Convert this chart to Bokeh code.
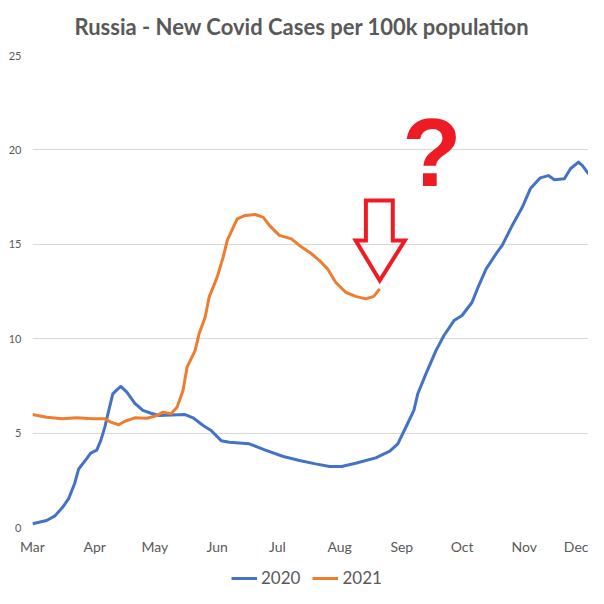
from bokeh.plotting import figure
from bokeh.models import Range1d, FixedTicker, Legend, LegendItem
from bokeh.layouts import column
from bokeh.embed import file_html
from bokeh.resources import INLINE
from bokeh.core.properties import value

title_text = "Russia - New Covid Cases per 100k population"
month_labels = ["Mar", "Apr", "May", "Jun", "Jul", "Aug", "Sep", "Oct", "Nov", "Dec"]
month_days = [0, 31, 61, 92, 122, 153, 184, 214, 245, 275]  # days since 1 March
y_ticks = [0, 5, 10, 15, 20, 25]
series_names = ["2020", "2021"]

# 2020 series (day since 1 March, new cases per 100k)
days_2020 = [0, 7, 11, 15, 18, 21, 23, 27, 29, 32, 34, 36, 38, 40, 42, 44, 47, 51, 55, 59,
             63, 76, 80, 85, 89, 94, 98, 108, 116, 125, 133, 141, 148, 154, 161, 171, 178,
             182, 186, 190, 192, 196, 201, 205, 210, 214, 219, 222, 226, 231, 234, 239, 244,
             248, 253, 257, 260, 265, 268, 272, 274, 277]
cases_2020 = [0.2, 0.37, 0.6, 1.07, 1.53, 2.33, 3.1, 3.65, 3.94, 4.1, 4.6, 5.3, 6.2, 7.08, 7.29,
              7.47, 7.17, 6.58, 6.2, 6.05, 5.93, 5.98, 5.81, 5.4, 5.14, 4.6, 4.52, 4.43, 4.1,
              3.76, 3.55, 3.37, 3.23, 3.23, 3.4, 3.69, 4.04, 4.43, 5.31, 6.2, 7.1, 8.14, 9.37,
              10.17, 10.96, 11.23, 11.93, 12.73, 13.7, 14.5, 14.94, 16.0, 16.96, 17.94, 18.52,
              18.64, 18.42, 18.47, 19.0, 19.35, 19.17, 18.73]

# 2021 series
days_2021 = [0, 7, 15, 22, 30, 36, 39, 43, 46, 51, 57, 62, 65, 69, 72, 75, 77, 81, 83, 86, 88,
             92, 95, 97, 100, 102, 106, 111, 115, 118, 123, 129, 133, 139, 143, 147, 151, 156,
             161, 166, 170, 173]
cases_2021 = [5.98, 5.84, 5.76, 5.81, 5.76, 5.76, 5.58, 5.44, 5.63, 5.81, 5.79, 5.93, 6.11, 6.02,
              6.37, 7.26, 8.49, 9.37, 10.26, 11.14, 12.2, 13.26, 14.32, 15.2, 15.9, 16.35, 16.53,
              16.58, 16.43, 16.0, 15.47, 15.29, 14.94, 14.5, 14.14, 13.7, 12.99, 12.46, 12.24,
              12.11, 12.24, 12.64]

# red arrow annotation (data units)
arrow_tip = (173.0, 13.08)
arrow_head_x = (161.0, 185.5)
arrow_shaft_x = (166.1, 179.5)
arrow_head_base = 15.2
arrow_shaft_top = 17.32
question_pos = (199.0, 19.86)

GRAY = "#595959"
FONT = "Lato"
BLUE = "#4472C4"
ORANGE = "#ED7D31"
RED = "#ED1C24"

# ---- title strip ----
top = figure(width=588, height=47, output_backend="svg", toolbar_location=None,
             x_axis_type=None, y_axis_type=None, x_range=Range1d(0, 1), y_range=Range1d(0, 1),
             min_border=0)
top.outline_line_color = None
top.xgrid.visible = False
top.ygrid.visible = False
top.text(x=[0.4847], y=[0.447], text=[title_text], text_font=value(FONT),
         text_font_style="bold", text_font_size="22px", text_color=GRAY,
         text_align="center", text_baseline="middle")

# ---- main chart ----
p = figure(width=588, height=511, output_backend="svg", toolbar_location=None,
           x_range=Range1d(0, 277), y_range=Range1d(0, 25),
           min_border_left=32, min_border_right=0, min_border_top=8,
           min_border_bottom=31)
p.outline_line_color = None
p.background_fill_color = "white"
p.border_fill_color = "white"

p.xaxis.ticker = FixedTicker(ticks=month_days)
p.xaxis.major_label_overrides = {d: m for d, m in zip(month_days, month_labels)}
p.xaxis.axis_line_color = None
p.xaxis.major_tick_line_color = None
p.xaxis.minor_tick_line_color = None
p.xaxis.major_tick_out = 0
p.xaxis.minor_tick_out = 0
p.xaxis.major_label_text_font = FONT
p.xaxis.major_label_text_font_size = "14px"
p.xaxis.major_label_text_color = GRAY
p.xaxis.major_label_standoff = 10

p.yaxis.ticker = FixedTicker(ticks=y_ticks)
p.yaxis.axis_line_color = None
p.yaxis.major_tick_line_color = None
p.yaxis.minor_tick_line_color = None
p.yaxis.major_tick_out = 0
p.yaxis.minor_tick_out = 0
p.yaxis.major_label_text_font = FONT
p.yaxis.major_label_text_font_size = "11px"
p.yaxis.major_label_text_color = GRAY
p.yaxis.major_label_standoff = 11

p.xgrid.grid_line_color = None
p.ygrid.grid_line_color = "#D9D9D9"
p.ygrid.grid_line_width = 1

p.line(days_2020, cases_2020, line_color=BLUE, line_width=3, line_join="round")
p.line(days_2021, cases_2021, line_color=ORANGE, line_width=3, line_join="round")

ax = [arrow_shaft_x[0], arrow_shaft_x[1], arrow_shaft_x[1], arrow_head_x[1], arrow_tip[0],
      arrow_head_x[0], arrow_shaft_x[0], arrow_shaft_x[0]]
ay = [arrow_shaft_top, arrow_shaft_top, arrow_head_base, arrow_head_base, arrow_tip[1],
      arrow_head_base, arrow_head_base, arrow_shaft_top]
p.patch(ax, ay, fill_alpha=0, line_color=RED, line_width=4, line_join="miter")

p.text(x=[question_pos[0]], y=[question_pos[1]], text=["?"], text_font=value("Liberation Sans"),
       text_font_style="bold", text_font_size="97px", text_color=RED,
       text_align="center", text_baseline="alphabetic")

# ---- legend strip ----
leg = figure(width=588, height=30, output_backend="svg", toolbar_location=None,
             x_axis_type=None, y_axis_type=None, x_range=Range1d(1000, 1001),
             y_range=Range1d(1000, 1001), min_border=0)
leg.outline_line_color = None
leg.xgrid.visible = False
leg.ygrid.visible = False
k1 = leg.line(days_2020, cases_2020, line_color=BLUE, line_width=3)
k2 = leg.line(days_2021, cases_2021, line_color=ORANGE, line_width=3)
legend = Legend(items=[LegendItem(label=series_names[0], renderers=[k1]),
                       LegendItem(label=series_names[1], renderers=[k2])],
                orientation="horizontal", location=(199, 0),
                border_line_color=None, background_fill_alpha=0,
                glyph_width=26, glyph_height=20, label_standoff=4, spacing=12,
                padding=0, margin=0,
                label_text_font=FONT, label_text_font_size="17px", label_text_color=GRAY)
leg.add_layout(legend)

page = column(top, p, leg, spacing=0)
open("out.html", "w").write(file_html(page, INLINE))
